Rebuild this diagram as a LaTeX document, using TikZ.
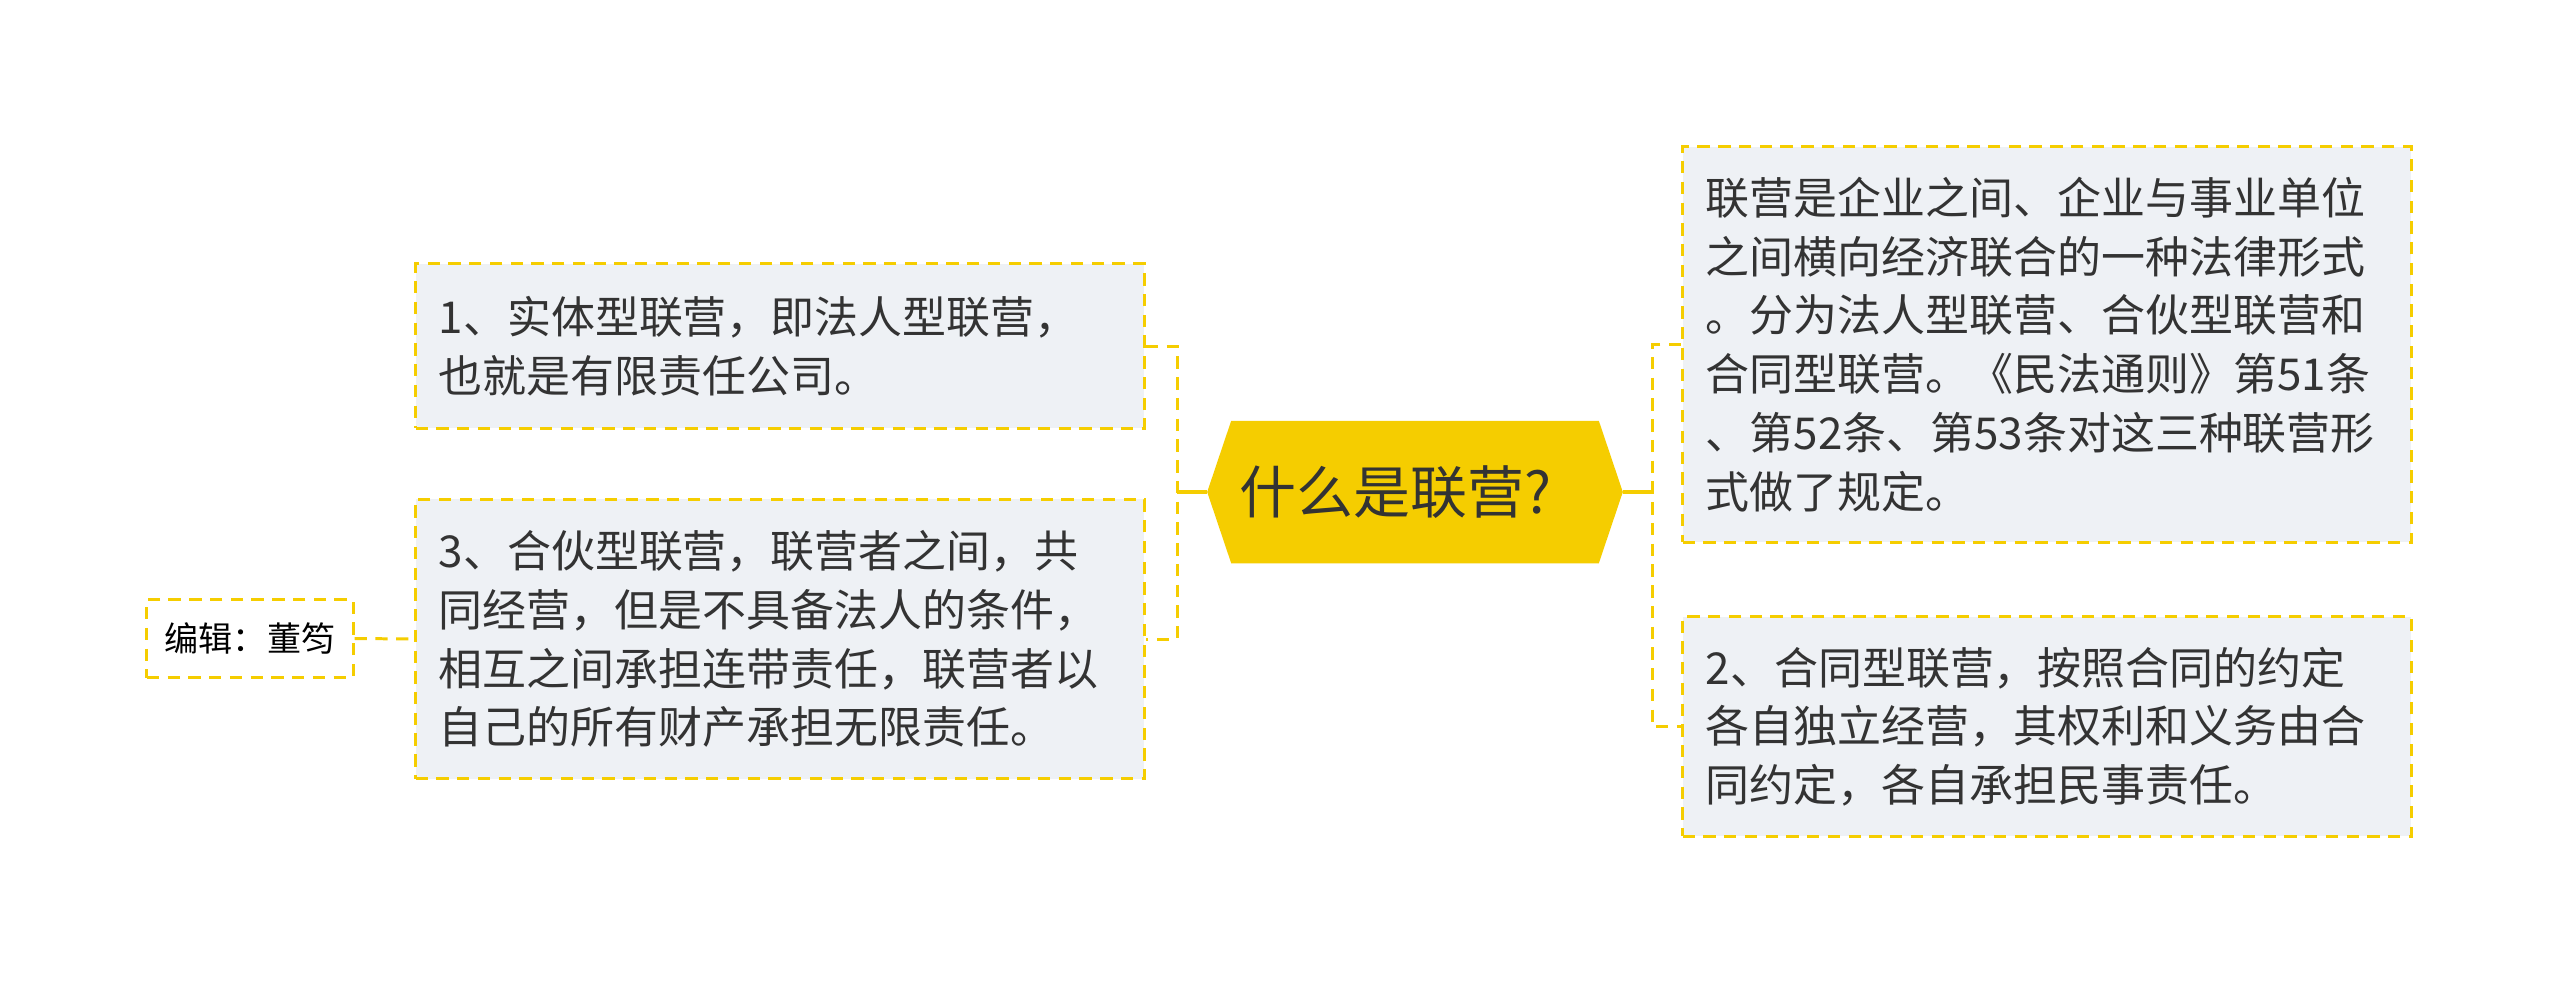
\documentclass[tikz,border=0pt]{standalone}
\usepackage{fontspec}
\setmainfont{Noto Sans CJK SC}
\usetikzlibrary{backgrounds}
\definecolor{mapyellow}{HTML}{F5CD00}
\definecolor{boxgray}{HTML}{EEF1F5}
\definecolor{inkgray}{HTML}{333333}
\begin{document}
\begin{tikzpicture}[x=0.01cm,y=-0.01cm,
    topic/.style={draw=mapyellow,line width=0.85pt,dash pattern=on 3.5pt off 2.4pt,
        fill=boxgray,text=inkgray,align=left,text width=6.82cm,inner xsep=0.23cm,
        minimum width=7.285cm,font=\fontsize{12.5pt}{16.7pt}\selectfont},
    link/.style={mapyellow,line width=1.1pt},
    dashlink/.style={mapyellow,line width=0.85pt,dash pattern=on 3.5pt off 2.4pt}]
        \useasboundingbox (0,0) rectangle (2560,984);

        \node[text=inkgray,align=left,text width=3.5cm,inner xsep=0.32cm,inner ysep=0pt,
            minimum width=4.14cm,minimum height=1.41cm,font=\fontsize{16.2pt}{19pt}\selectfont]
            (root) at (1415,492) {什么是联营?};
        \begin{scope}[on background layer]
            \fill[mapyellow] (root.west) -- ([xshift=0.24cm]root.north west)
            -- ([xshift=-0.24cm]root.north east) -- (root.east)
            -- ([xshift=-0.24cm]root.south east) -- ([xshift=0.24cm]root.south west) -- cycle;
        \end{scope}

        \node[topic,minimum height=1.64cm] (shiti) at (780,346) {1、实体型联营，即法人型联营，\\也就是有限责任公司。};
        \node[topic,minimum height=2.79cm] (hehuo) at (780,639) {3、合伙型联营，联营者之间，共\\同经营，但是不具备法人的条件，\\相互之间承担连带责任，联营者以\\自己的所有财产承担无限责任。};
        \node[topic,minimum height=3.95cm] (dingyi) at (2047,344.5) {联营是企业之间、企业与事业单位\\之间横向经济联合的一种法律形式\\。分为法人型联营、合伙型联营和\\合同型联营。《民法通则》第51条\\、第52条、第53条对这三种联营形\\式做了规定。};
        \node[topic,minimum height=2.19cm] (hetong) at (2047,726.5) {2、合同型联营，按照合同的约定\\各自独立经营，其权利和义务由合\\同约定，各自承担民事责任。};

        \node[draw=mapyellow,line width=0.85pt,dash pattern=on 3.5pt off 2.4pt,text=black,
            minimum width=2.06cm,minimum height=0.78cm,font=\fontsize{9.7pt}{12pt}\selectfont]
            (bianji) at (250,638.5) {编辑：董笉};

        \coordinate (lj) at (1177,492);
        \coordinate (rj) at (1652,492);

        \draw[link] (root.west) -- (lj);
        \draw[link] (root.east) -- (rj);
        \draw[dashlink] (shiti.east) -| (lj) |- (hehuo.east);
        \draw[dashlink] (dingyi.west) -| (rj) |- (hetong.west);
        \draw[dashlink] (bianji.east) -- (hehuo.west);
\end{tikzpicture}
\end{document}
